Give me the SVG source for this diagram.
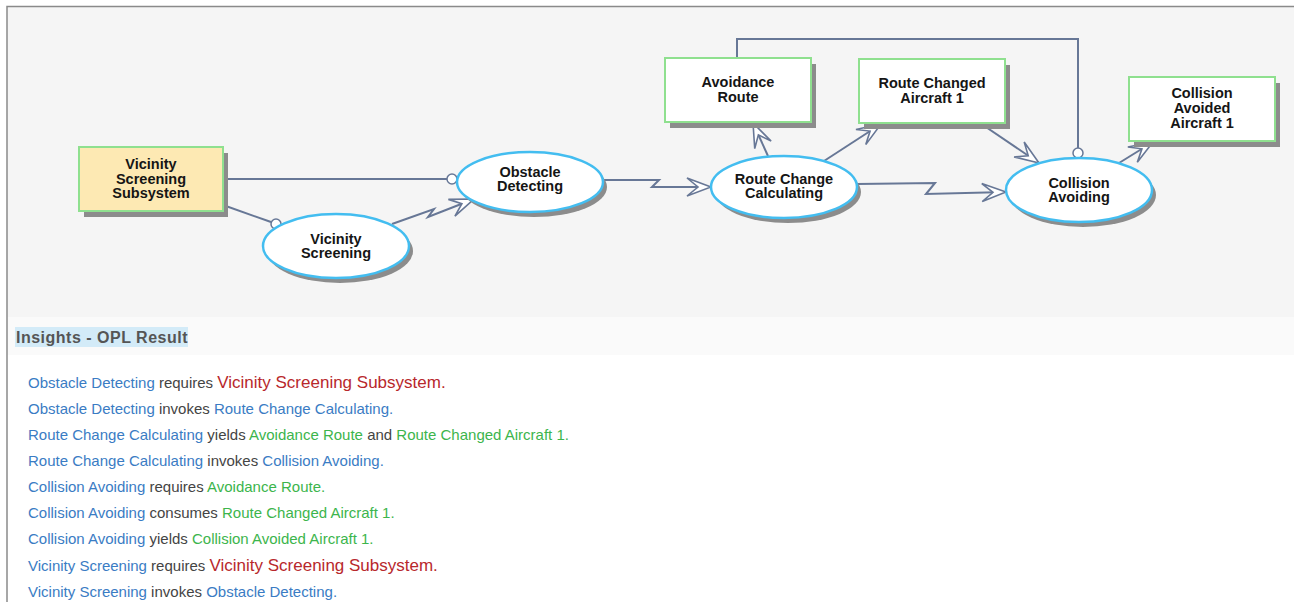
<svg xmlns="http://www.w3.org/2000/svg" width="1294" height="602" viewBox="0 0 1294 602">
  <defs>
    <style>
      .obj { fill: #ffffff; stroke: #8fe08f; stroke-width: 2; }
      .sys { fill: #fde9b3; stroke: #8fe08f; stroke-width: 2; }
      .proc { fill: #ffffff; stroke: #43bdf0; stroke-width: 2.5; }
      .shadow { fill: #8c8c8c; }
      .lbl { font-family: "Liberation Sans", Arial, sans-serif; font-weight: bold; font-size: 14.5px; fill: #151515; text-anchor: middle; }
      .link { fill: none; stroke: #677796; stroke-width: 2; stroke-linejoin: miter; }
      .ring { fill: #ffffff; stroke: #677796; stroke-width: 1.5; }
      .opl { font-family: "Liberation Sans", Arial, sans-serif; font-size: 15px; fill: #444444; }
      .p { fill: #3a7cc4; }
      .o { fill: #3cb54c; }
      .s { fill: #b8282c; font-size: 17px; }
    </style>
    <!-- open, notched arrowhead for invocation / result / consumption links -->
    <marker id="arr" markerUnits="userSpaceOnUse" viewBox="0 0 28 22" markerWidth="28" markerHeight="22" refX="26" refY="11" orient="auto">
      <path d="M26,11 L2,2 L13,11 L2,20 Z" fill="#ffffff" stroke="#677796" stroke-width="1.6" stroke-linejoin="miter"/>
    </marker>
  </defs>

  <!-- page -->
  <rect x="0" y="0" width="1294" height="602" fill="#ffffff"/>
  <rect x="7" y="7" width="1287" height="310" fill="#f5f5f5"/>
  <rect x="7" y="317" width="1287" height="38" fill="#fafafa"/>
  <path d="M7,602 L7,6.5 L1294,6.5" fill="none" stroke="#8a8a8a" stroke-width="1.5"/>

  <!-- connectors -->
  <g id="connectors">
    <!-- Vicinity Screening Subsystem -> Obstacle Detecting (instrument) -->
    <path class="link" d="M223,179 L447,179"/>
    <circle class="ring" cx="452" cy="179" r="5"/>
    <!-- Vicinity Screening Subsystem -> Vicinity Screening (instrument) -->
    <path class="link" d="M223,205 L271,222"/>
    <circle class="ring" cx="276" cy="224" r="5"/>
    <!-- Vicinity Screening invokes Obstacle Detecting -->
    <path class="link" d="M392,224 L434,209 L428,217 L474,199" marker-end="url(#arr)"/>
    <!-- Obstacle Detecting invokes Route Change Calculating -->
    <path class="link" d="M603,180 L659,180 L652,187 L711,187" marker-end="url(#arr)"/>
    <!-- Route Change Calculating invokes Collision Avoiding -->
    <path class="link" d="M857,184 L935,183 L926,194 L1006,192" marker-end="url(#arr)"/>
    <!-- Route Change Calculating yields Avoidance Route -->
    <path class="link" d="M768,156 L753,123" marker-end="url(#arr)"/>
    <!-- Route Change Calculating yields Route Changed Aircraft 1 -->
    <path class="link" d="M824,161 L881,124" marker-end="url(#arr)"/>
    <!-- Collision Avoiding consumes Route Changed Aircraft 1 -->
    <path class="link" d="M980,123 L1039,163" marker-end="url(#arr)"/>
    <!-- Collision Avoiding yields Collision Avoided Aircraft 1 -->
    <path class="link" d="M1119,163 L1153,142" marker-end="url(#arr)"/>
    <!-- Collision Avoiding requires Avoidance Route -->
    <path class="link" d="M737,58 L737,39 L1078,39 L1078,148"/>
    <circle class="ring" cx="1078" cy="153" r="5"/>
  </g>

  <!-- objects -->
  <g id="vicinity-screening-subsystem">
    <rect class="shadow" x="84" y="153" width="144" height="64"/>
    <rect class="sys" x="79" y="147" width="144" height="64"/>
    <text class="lbl" x="151" y="169">Vicinity</text>
    <text class="lbl" x="151" y="184">Screening</text>
    <text class="lbl" x="151" y="198">Subsystem</text>
  </g>

  <g id="avoidance-route">
    <rect class="shadow" x="670" y="64" width="146" height="64"/>
    <rect class="obj" x="665" y="58" width="146" height="64"/>
    <text class="lbl" x="738" y="87">Avoidance</text>
    <text class="lbl" x="738" y="102">Route</text>
  </g>

  <g id="route-changed-aircraft-1">
    <rect class="shadow" x="864" y="65" width="146" height="64"/>
    <rect class="obj" x="859" y="59" width="146" height="64"/>
    <text class="lbl" x="932" y="88">Route Changed</text>
    <text class="lbl" x="932" y="103">Aircraft 1</text>
  </g>

  <g id="collision-avoided-aircraft-1">
    <rect class="shadow" x="1134" y="83" width="146" height="64"/>
    <rect class="obj" x="1129" y="77" width="146" height="64"/>
    <text class="lbl" x="1202" y="98">Collision</text>
    <text class="lbl" x="1202" y="113">Avoided</text>
    <text class="lbl" x="1202" y="128">Aircraft 1</text>
  </g>

  <!-- processes -->
  <g id="vicinity-screening">
    <ellipse class="shadow" cx="340" cy="251" rx="73" ry="32"/>
    <ellipse class="proc" cx="336" cy="246" rx="73" ry="32"/>
    <text class="lbl" x="336" y="244">Vicinity</text>
    <text class="lbl" x="336" y="258">Screening</text>
  </g>

  <g id="obstacle-detecting">
    <ellipse class="shadow" cx="534" cy="187" rx="73" ry="30"/>
    <ellipse class="proc" cx="530" cy="182" rx="73" ry="30"/>
    <text class="lbl" x="530" y="177">Obstacle</text>
    <text class="lbl" x="530" y="191">Detecting</text>
  </g>

  <g id="route-change-calculating">
    <ellipse class="shadow" cx="788" cy="192" rx="73" ry="31"/>
    <ellipse class="proc" cx="784" cy="187" rx="73" ry="31"/>
    <text class="lbl" x="784" y="184">Route Change</text>
    <text class="lbl" x="784" y="198">Calculating</text>
  </g>

  <g id="collision-avoiding">
    <ellipse class="shadow" cx="1083" cy="195" rx="73" ry="32"/>
    <ellipse class="proc" cx="1079" cy="190" rx="73" ry="32"/>
    <text class="lbl" x="1079" y="188">Collision</text>
    <text class="lbl" x="1079" y="202">Avoiding</text>
  </g>

  <!-- OPL panel -->
  <g id="opl">
    <rect x="15" y="327" width="173" height="20" fill="#d3ebf8"/>
    <text x="16" y="343" font-family="'Liberation Sans', Arial, sans-serif" font-weight="bold" font-size="16px" letter-spacing="0.5" fill="#555555">Insights - OPL Result</text>

    <text class="opl" x="28" y="388"><tspan class="p">Obstacle Detecting</tspan> requires <tspan class="s">Vicinity Screening Subsystem.</tspan></text>
    <text class="opl" x="28" y="414"><tspan class="p">Obstacle Detecting</tspan> invokes <tspan class="p">Route Change Calculating.</tspan></text>
    <text class="opl" x="28" y="440"><tspan class="p">Route Change Calculating</tspan> yields <tspan class="o">Avoidance Route</tspan> and <tspan class="o">Route Changed Aircraft 1.</tspan></text>
    <text class="opl" x="28" y="466"><tspan class="p">Route Change Calculating</tspan> invokes <tspan class="p">Collision Avoiding.</tspan></text>
    <text class="opl" x="28" y="492"><tspan class="p">Collision Avoiding</tspan> requires <tspan class="o">Avoidance Route.</tspan></text>
    <text class="opl" x="28" y="518"><tspan class="p">Collision Avoiding</tspan> consumes <tspan class="o">Route Changed Aircraft 1.</tspan></text>
    <text class="opl" x="28" y="544"><tspan class="p">Collision Avoiding</tspan> yields <tspan class="o">Collision Avoided Aircraft 1.</tspan></text>
    <text class="opl" x="28" y="571"><tspan class="p">Vicinity Screening</tspan> requires <tspan class="s">Vicinity Screening Subsystem.</tspan></text>
    <text class="opl" x="28" y="597"><tspan class="p">Vicinity Screening</tspan> invokes <tspan class="p">Obstacle Detecting.</tspan></text>
  </g>
</svg>
